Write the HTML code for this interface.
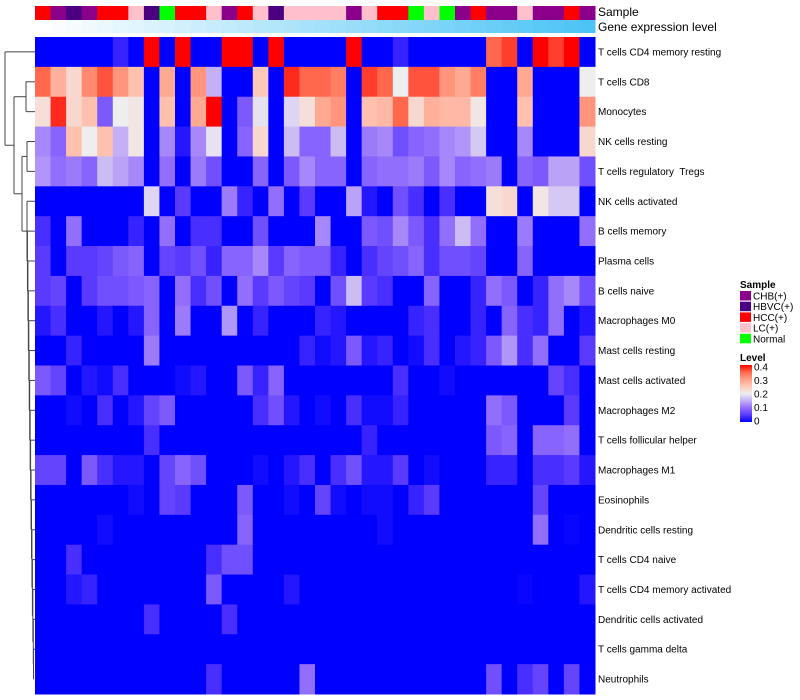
<!DOCTYPE html>
<html><head><meta charset="utf-8"><style>
html,body{margin:0;padding:0;background:#fff;}
svg{display:block;font-family:"Liberation Sans",sans-serif;}
#labels text{white-space:pre;}
</style></head><body>
<svg id="chart" width="800" height="700" viewBox="0 0 800 700">
<g id="dendro" stroke="#444" stroke-width="1" fill="none"></g>
<g id="anno"></g>
<g id="cells"></g>
<g id="labels" font-size="10" fill="#000" xml:space="preserve"></g>
<text x="598" y="16" font-size="12">Sample</text>
<text x="598" y="31" font-size="12">Gene expression level</text>
<g id="legend"></g>
</svg>
<script>
const rowNames = ["T cells CD4 memory resting","T cells CD8","Monocytes","NK cells resting","T cells regulatory  Tregs","NK cells activated","B cells memory","Plasma cells","B cells naive","Macrophages M0","Mast cells resting","Mast cells activated","Macrophages M2","T cells follicular helper","Macrophages M1","Eosinophils","Dendritic cells resting","T cells CD4 naive","T cells CD4 memory activated","Dendritic cells activated","T cells gamma delta","Neutrophils"];
const samples = ["HCC(+)","CHB(+)","HBVC(+)","CHB(+)","HCC(+)","HCC(+)","LC(+)","HBVC(+)","Normal","HCC(+)","HCC(+)","LC(+)","CHB(+)","HCC(+)","LC(+)","HBVC(+)","LC(+)","LC(+)","LC(+)","LC(+)","CHB(+)","LC(+)","HCC(+)","HCC(+)","Normal","LC(+)","Normal","CHB(+)","HCC(+)","CHB(+)","CHB(+)","LC(+)","CHB(+)","CHB(+)","HCC(+)","CHB(+)"];
const sampleCats = ["CHB(+)","HBVC(+)","HCC(+)","LC(+)","Normal"];
const geneLevel = [0,1,2,3,4,5,6,7,8,9,10,11,12,13,14,15,16,17,18,19,20,21,22,23,24,25,26,27,28,29,30,31,32,33,34,35];
const levelTicks = [0,0.1,0.2,0.3,0.4];
const r1 = [0,0,0,0,0,0.03,0,0.4,0,0.4,0,0,0.4,0.4,0,0.4,0,0,0,0,0.4,0,0,0.03,0,0,0,0,0,0.35,0.37,0,0.4,0.37,0.4,0];
const r2 = [0.35,0.28,0.23,0.32,0.36,0.31,0.26,0,0.29,0,0.31,0.15,0,0,0.25,0,0.38,0.35,0.35,0.33,0,0.37,0.35,0.2,0.36,0.36,0.31,0.29,0.33,0,0,0.29,0,0,0,0.2];
const r3 = [0.22,0.38,0.23,0.26,0.08,0.2,0.21,0,0.26,0,0.29,0.4,0,0.08,0.19,0,0.18,0.22,0.29,0.31,0,0.26,0.27,0.35,0.23,0.28,0.27,0.27,0.21,0,0,0.26,0,0,0,0.31];
const r4 = [0.12,0.09,0.26,0.2,0.26,0.15,0.21,0,0.12,0.02,0.12,0.19,0,0.09,0.23,0,0.16,0.09,0.09,0.16,0,0.11,0.12,0.07,0.09,0.1,0.12,0.13,0.17,0,0,0.12,0,0,0,0.23];
const r5 = [0.13,0.1,0.11,0.09,0.16,0.14,0.12,0,0.1,0,0.11,0.07,0,0,0.09,0,0.08,0.12,0.09,0.09,0,0.09,0.1,0.1,0.11,0.08,0.12,0.09,0.1,0.11,0,0.09,0.08,0.14,0.14,0.07];
const r6 = [0,0,0,0,0,0,0,0.18,0,0.05,0,0,0.11,0.03,0,0.1,0,0.05,0,0,0.14,0.02,0,0.07,0.04,0,0.04,0,0,0.22,0.23,0,0.21,0.17,0.17,0];
const r7 = [0.04,0,0.1,0,0,0,0.03,0,0.1,0,0.04,0.04,0,0,0.07,0,0,0,0.12,0,0,0.08,0.07,0.12,0.08,0.04,0.1,0.16,0.1,0,0,0.11,0,0,0,0.1];
const r8 = [0.05,0,0.05,0.05,0.06,0.08,0.09,0,0.06,0.05,0.07,0.03,0.09,0.09,0.12,0.05,0.09,0.08,0.08,0.03,0,0.04,0.06,0.07,0.09,0.04,0.07,0.07,0.06,0,0,0.09,0,0,0,0];
const r9 = [0.05,0.06,0,0.05,0.07,0.07,0.08,0.09,0,0.1,0.04,0.07,0,0.1,0.05,0.08,0.06,0.05,0,0.07,0.16,0.05,0.04,0,0,0.09,0,0,0.03,0.1,0.08,0,0.03,0.1,0.12,0.07];
const r10 = [0.02,0.04,0,0,0.02,0,0.02,0.09,0,0.11,0,0,0.13,0,0.03,0,0,0,0.03,0.02,0,0,0,0,0.03,0.04,0,0,0.03,0,0.09,0.04,0.03,0.1,0,0.02];
const r11 = [0,0,0.03,0,0,0,0,0.11,0,0,0,0,0,0,0,0,0,0.03,0.01,0.02,0.08,0.02,0.03,0,0.01,0.04,0,0.02,0.03,0.08,0.13,0.04,0.1,0,0,0.05];
const r12 = [0.08,0.06,0,0.02,0.01,0.04,0,0,0,0.01,0.02,0,0,0.08,0.03,0.09,0,0,0,0,0,0,0,0.04,0,0,0.01,0,0,0,0,0,0,0.06,0.04,0];
const r13 = [0,0,0.01,0,0.04,0,0.02,0.06,0.08,0,0,0,0,0,0.04,0.07,0.02,0,0.01,0,0.04,0.01,0.01,0.03,0,0,0,0,0,0.1,0.08,0,0,0,0.05,0];
const r14 = [0,0,0,0,0,0,0,0.04,0,0,0,0,0,0,0,0,0,0,0,0,0,0.03,0,0,0,0,0,0,0,0.08,0.09,0,0.09,0.09,0.1,0];
const r15 = [0.06,0.06,0,0.08,0.04,0.02,0.02,0,0.06,0.09,0.07,0,0,0,0.01,0,0.02,0.04,0,0.04,0.07,0.02,0.02,0.05,0,0.01,0,0,0,0.03,0.03,0,0.04,0.04,0.05,0.02];
const r16 = [0,0,0,0,0,0,0.01,0,0.06,0.05,0,0,0,0.08,0,0,0.01,0,0.06,0.01,0,0.01,0.01,0,0.03,0.05,0,0,0,0,0,0,0.06,0,0,0];
const r17 = [0,0,0,0,0.01,0,0,0,0,0,0,0,0,0.09,0,0,0,0,0,0,0,0,0.01,0,0,0,0,0,0,0,0,0,0.1,0,0.005,0];
const r18 = [0,0,0.04,0,0,0,0,0,0,0,0,0.04,0.07,0.07,0,0,0,0,0,0,0,0,0,0,0,0,0,0,0,0,0,0,0,0,0,0];
const r19 = [0,0,0.02,0.03,0,0,0,0,0,0,0,0.08,0,0,0,0,0.02,0,0,0,0,0,0,0,0,0,0,0,0,0,0,0.005,0,0,0,0.02];
const r20 = [0,0,0,0,0,0,0,0.04,0,0,0,0,0.04,0,0,0,0,0,0,0,0,0,0,0,0,0,0,0,0,0,0,0,0,0,0,0];
const r21 = [0,0,0,0,0,0,0,0,0,0,0,0,0,0,0,0,0,0,0,0,0,0,0,0,0,0,0,0,0,0,0,0,0,0,0,0];
const r22 = [0,0,0,0,0,0,0,0,0,0,0,0.04,0,0,0,0,0,0.1,0,0,0,0,0,0,0,0,0,0,0,0.07,0,0.04,0.06,0,0.06,0];
const matrix = [r1,r2,r3,r4,r5,r6,r7,r8,r9,r10,r11,r12,r13,r14,r15,r16,r17,r18,r19,r20,r21,r22];

const NS="http://www.w3.org/2000/svg";
const X0=35, X1=595, Y0=37, Y1=694;
const nC=samples.length, nR=rowNames.length;
const cw=(X1-X0)/nC, rh=(Y1-Y0)/nR;
const xPos=i=>X0+i*cw, yPos=j=>Y0+j*rh;
const sampleColor={"CHB(+)":"#8B008B","HBVC(+)":"#4B0082","HCC(+)":"#FF0000","LC(+)":"#FFC0CB","Normal":"#00FF00"};
const stops=[[0,[0,0,255]],[0.05,[90,58,255]],[0.1,[146,110,252]],[0.15,[196,176,246]],[0.2,[238,238,238]],[0.25,[255,200,184]],[0.3,[255,160,136]],[0.35,[255,104,76]],[0.4,[255,0,0]]];
function col(v){v=Math.max(0,Math.min(0.4,v));for(let k=1;k<stops.length;k++){if(v<=stops[k][0]){const a=stops[k-1],b=stops[k];const t=(v-a[0])/(b[0]-a[0]);const c=a[1].map((x,i)=>Math.round(x+(b[1][i]-x)*t));return `rgb(${c})`;}}return "rgb(255,0,0)";}
function mk(tag,attrs,parent){const e=document.createElementNS(NS,tag);for(const k in attrs)e.setAttribute(k,attrs[k]);parent.appendChild(e);return e;}

const cells=document.getElementById('cells');
matrix.forEach((row,j)=>row.forEach((v,i)=>{
  const r=mk('rect',{x:xPos(i),y:yPos(j),width:cw+0.5,height:rh+0.5,fill:col(v)},cells);
  
  
}));
const anno=document.getElementById('anno');
const gMax=Math.max(...geneLevel);
samples.forEach((s,i)=>{
  const r=mk('rect',{x:xPos(i),y:6,width:cw+0.5,height:14,fill:sampleColor[s]},anno);
  
  
  const t=geneLevel[i]/gMax;
  const c=[255+(76-255)*t,255+(196-255)*t,255+(245-255)*t].map(Math.round);
  const g=mk('rect',{x:xPos(i),y:20,width:cw+0.5,height:13,fill:`rgb(${c})`},anno);
  
  
});
const labels=document.getElementById('labels');
rowNames.forEach((n,j)=>{
  const t=mk('text',{x:598,y:yPos(j)+rh/2+3.5},labels);
  t.textContent=n;
  
  
});
// dendrogram
const d=document.getElementById('dendro');
const cy=j=>yPos(j)+rh/2;
function seg(x1,y1,x2,y2){const l=mk('line',{x1,y1,x2,y2},d);}
seg(5,cy(0),35,cy(0));
const mA=(cy(1)+cy(2))/2; seg(26,cy(1),35,cy(1)); seg(26,cy(2),35,cy(2)); seg(26,cy(1),26,cy(2));
const mB=(cy(3)+cy(4))/2; seg(27,cy(3),35,cy(3)); seg(27,cy(4),35,cy(4)); seg(27,cy(3),27,cy(4));
let prevY=cy(21), prevX=34;
for(let j=20;j>=5;j--){const x=Math.min(33.5,27+(j-5)*0.45);seg(x,cy(j),35,cy(j));seg(x,prevY,prevX,prevY);seg(x,cy(j),x,prevY);prevY=(cy(j)+prevY)/2;prevX=x;}
const xE=22; seg(xE,mB,27,mB); seg(xE,prevY,prevX,prevY); seg(xE,mB,xE,prevY);
const mC=(mB+prevY)/2;
const xD=14; seg(xD,mA,26,mA); seg(xD,mC,xE,mC); seg(xD,mA,xD,mC);
const mD=(mA+mC)/2; seg(5,mD,xD,mD); seg(5,cy(0),5,mD);
// legend
const lg=document.getElementById('legend');
let t=mk('text',{x:740,y:288,'font-size':10,'font-weight':'bold'},lg);t.textContent='Sample';

sampleCats.forEach((s,k)=>{
  const y=291+k*10.7;
  const r=mk('rect',{x:740,y:y,width:11,height:9.5,fill:sampleColor[s]},lg);
  
  const tx=mk('text',{x:753,y:y+8.5,'font-size':10},lg);tx.textContent=s;
  
});
t=mk('text',{x:740,y:361,'font-size':10,'font-weight':'bold'},lg);t.textContent='Level';

const defs=mk('defs',{},lg);const gr=mk('linearGradient',{id:'lvl',x1:0,y1:1,x2:0,y2:0},defs);
for(let k=0;k<=8;k++){mk('stop',{offset:k/8,'stop-color':col(k*0.05)},gr);}
const bar=mk('rect',{x:740,y:365,width:12,height:57,fill:'url(#lvl)'},lg);

levelTicks.forEach(v=>{
  const y=421-v/0.4*54;
  const tx=mk('text',{x:754,y:y+3.5,'font-size':10},lg);tx.textContent=String(v);
  
});
</script>
</body></html>
